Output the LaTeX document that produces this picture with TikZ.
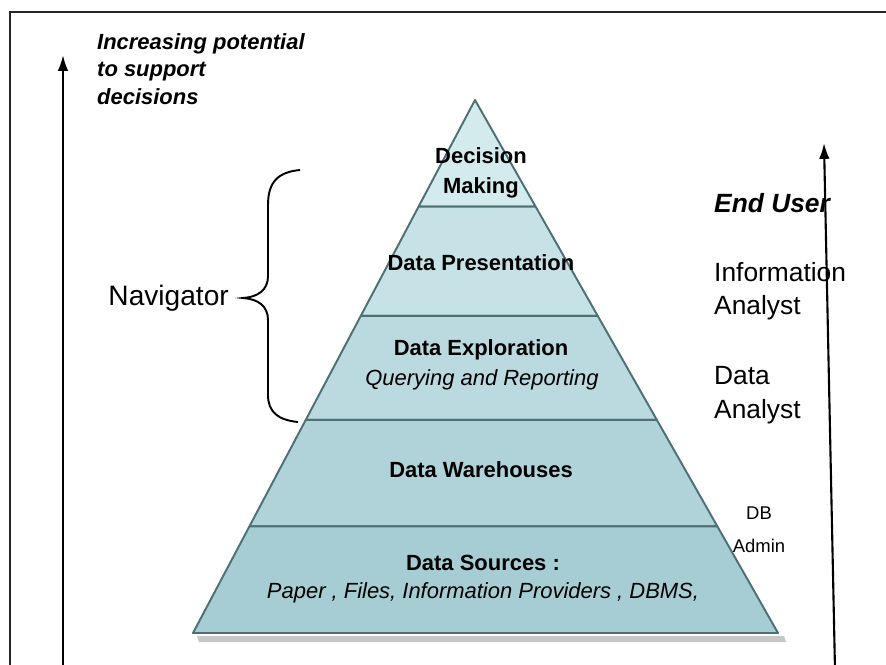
\documentclass[tikz,border=0pt]{standalone}
\usepackage{fontspec}
\setmainfont{Liberation Sans}
\usetikzlibrary{calc,arrows.meta}

\definecolor{tierline}{HTML}{4C7074}
\definecolor{tierA}{HTML}{D4EBEE}
\definecolor{tierB}{HTML}{C6E2E6}
\definecolor{tierC}{HTML}{BADADF}
\definecolor{tierD}{HTML}{AFD3D8}
\definecolor{tierE}{HTML}{A6CDD3}

\begin{document}
\begin{tikzpicture}[x=0.02cm,y=-0.02cm,
  tier/.style={draw=tierline,line width=1.1pt,line join=round},
  tierlabel/.style={font=\bfseries\fontsize{12.5}{17}\selectfont,align=center},
  tiersub/.style={font=\itshape\fontsize{12.5}{15}\selectfont},
  role/.style={font=\fontsize{15}{19}\selectfont,align=left,anchor=west},
  axis/.style={-{Latex[length=9pt,width=6pt]},line width=1.2pt}]

\useasboundingbox (0,0) rectangle (886,664);

% frame
\draw[line width=1.4pt,black!85] (10,680) -- (10,12) -- (900,12);

% pyramid corners
\coordinate (apex) at (475,100);
\coordinate (bl) at (193,633);
\coordinate (br) at (778,633);

% shadow under the base
\fill[black!22] ($(bl)+(4,3)$) -- ($(br)+(6,3)$) -- ($(br)+(8,9)$) -- ($(bl)+(6,9)$) -- cycle;

% the five tiers
\foreach \a/\b/\c in {0/0.2/tierA,0.2/0.405/tierB,0.405/0.6/tierC,0.6/0.8/tierD,0.8/1/tierE}
  \filldraw[tier,fill=\c] ($(apex)!\a!(bl)$) -- ($(apex)!\a!(br)$) -- ($(apex)!\b!(br)$) -- ($(apex)!\b!(bl)$) -- cycle;

\node[tierlabel] (decision) at (481,173) {Decision\\Making};
\node[tierlabel] (presentation) at (481,263) {Data Presentation};
\node[tierlabel] (exploration) at (481,350) {Data Exploration};
\node[tiersub] (querying) at (482,380) {Querying and Reporting};
\node[tierlabel] (warehouses) at (481,470) {Data Warehouses};
\node[tierlabel] (sources) at (483,563) {Data Sources :};
\node[tiersub] (media) at (483,593) {Paper , Files, Information Providers , DBMS,};

% left axis
\coordinate (potlow) at (63,670);
\coordinate (pothigh) at (63,55);
\draw[axis] (potlow) -- (pothigh);
\node[anchor=west,align=left,font=\bfseries\itshape\fontsize{12.5}{15.5}\selectfont] (potential) at (91,69) {Increasing potential\\to support\\decisions};

% navigator brace
\coordinate (bracetop) at (300,170);
\coordinate (bracetip) at (243,298);
\coordinate (bracebot) at (298,422);
\draw[line width=1.1pt] (bracetop) .. controls (278,172) and (268,182) .. (268,205) -- (268,276)
  .. controls (268,290) and (258,297) .. (bracetip)
  .. controls (258,299) and (268,306) .. (268,320) -- (268,395)
  .. controls (268,412) and (278,420) .. (bracebot);
\node[font=\fontsize{16}{19}\selectfont,anchor=east] (navigator) at ($(bracetip)+(-8,0)$) {Navigator};

% right axis
\coordinate (userlow) at (835,670);
\coordinate (userhigh) at (824,143);
\node[role,font=\bfseries\itshape\fontsize{15}{19}\selectfont] (enduser) at (708,203) {End User};
\node[role] (infoanalyst) at (708,291) {Information\\Analyst};
\node[role] (dataanalyst) at (708,395) {Data\\Analyst};
\node[font=\fontsize{10.5}{19}\selectfont,align=center] (dbadmin) at (759,530) {DB\\Admin};
\draw[axis] (userlow) -- (userhigh);

\end{tikzpicture}
\end{document}
